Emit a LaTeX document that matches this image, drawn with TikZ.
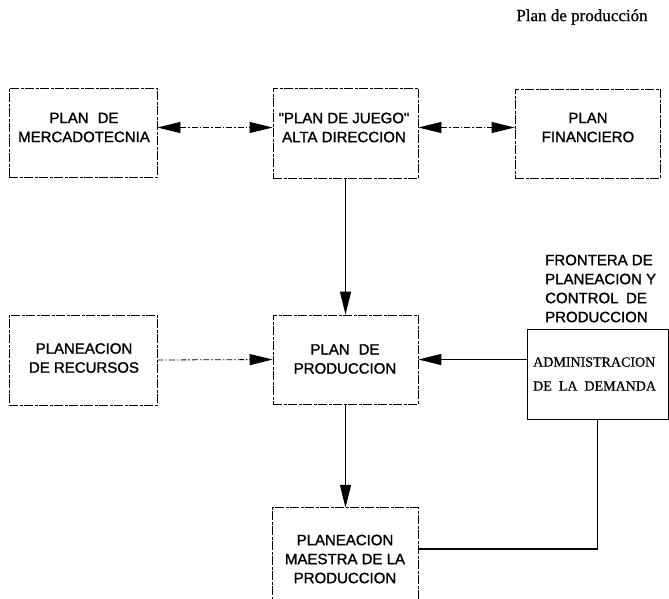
\documentclass[tikz,border=0pt]{standalone}
\usepackage{fontspec}
\setmainfont{Liberation Serif}
\newfontfamily\boxfont[AutoFakeBold=1.3]{Liberation Sans}
\newfontfamily\serfont[AutoFakeBold=0.8]{Liberation Serif}
\usetikzlibrary{arrows.meta,calc}
\begin{document}
\begin{tikzpicture}[x=1pt,y=-1pt,
  frameline/.style={line width=0.8pt, dash pattern=on 9pt off 1.5pt on 3pt off 1.5pt},
  boxshape/.style={draw, frameline, minimum width=145pt, minimum height=90pt, inner sep=0pt},
  lbl/.style={font=\boxfont\bfseries\fontsize{15}{19}\selectfont, align=center, inner sep=0pt},
  serlbl/.style={font=\serfont\bfseries\fontsize{14}{24}\selectfont, align=left, inner sep=0pt},
  tip/.tip={Triangle[length=23pt,width=11pt]},
  solidarrow/.style={line width=1.1pt, -tip},
  dasharrow/.style={line width=0.8pt, dash pattern=on 6pt off 2pt on 1.5pt off 2pt, -tip},
  dashboth/.style={line width=0.8pt, dash pattern=on 6pt off 2pt on 1.5pt off 2pt, tip-tip}]
\useasboundingbox (0,0) rectangle (669,598);
\fill[white] (0,0) rectangle (669,598);

% title
\node[font=\serfont\bfseries\fontsize{17}{19}\selectfont, inner sep=0pt] (title) at (582,17) {Plan de producción};

% top row
\node[boxshape, minimum width=148pt, minimum height=89pt] (b1) at (83,132.5) {};
\node[lbl] (t1) at (84,127.5) {PLAN\hspace{0.6em}DE\\MERCADOTECNIA};
\node[boxshape] (b2) at (345.5,133) {};
\node[lbl] (t2) at (344,127.5) {"PLAN DE JUEGO"\\ALTA DIRECCION};
\node[boxshape, minimum height=89pt] (b3) at (587.5,133.5) {};
\node[lbl] (t3) at (588,127.5) {PLAN\\FINANCIERO};

% middle row
\node[boxshape, minimum width=148pt] (b4) at (83,360) {};
\node[lbl] (t4) at (84,358) {PLANEACION\\DE RECURSOS};
\node[boxshape, minimum height=89pt] (pp) at (345.5,359.5) {};
\node[lbl] (t5) at (345,359) {PLAN\hspace{0.6em}DE\\PRODUCCION};
\node[draw, line width=0.9pt, minimum width=141pt, minimum height=90pt, inner sep=0pt] (adm) at (597.5,374) {};
\node[serlbl, anchor=west] (t6) at (533,374) {ADMINISTRACION\\DE\ \ LA\ \ DEMANDA};
\node[lbl, align=left, anchor=west] (fr) at (545,288.5) {FRONTERA DE\\PLANEACION Y\\CONTROL\hspace{0.5em}DE\\PRODUCCION};

% bottom box (open at the bottom edge of the page)
\node[minimum width=145pt, minimum height=102pt, inner sep=0pt] (m) at (345.5,559) {};
\draw[frameline] (m.south west) -- (m.north west) -- (m.north east) -- (m.south east);
\node[lbl] (t7) at (345,559) {PLANEACION\\MAESTRA DE LA\\PRODUCCION};

% connectors
\draw[dashboth] (b1.east |- t1) -- (b2.west |- t1);
\draw[dashboth] (b2.east |- t2) -- (b3.west |- t2);
\draw[solidarrow] (b2.south) -- (pp.north);
\draw[dasharrow] (b4.east) -- (pp.west);
\draw[solidarrow] (adm.west |- pp) -- (pp.east);
\draw[solidarrow] (pp.south) -- (m.north);
\draw[line width=1.1pt] (adm.south) |- ($(m.east)+(0,-10)$);
\end{tikzpicture}
\end{document}
